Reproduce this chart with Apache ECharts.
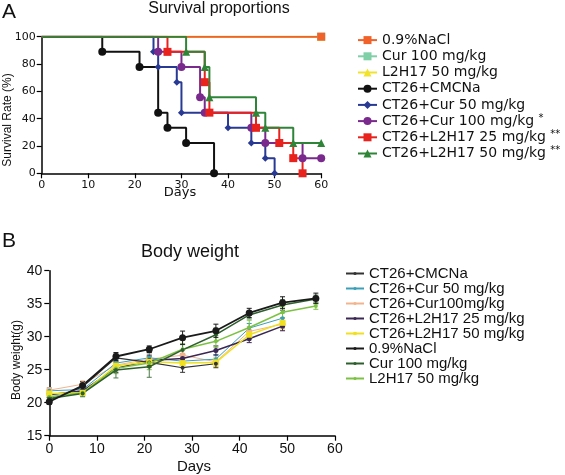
<!DOCTYPE html>
<html><head><meta charset="utf-8">
<script src="https://cdn.jsdelivr.net/npm/echarts@6/dist/echarts.min.js"></script>
<style>html,body{margin:0;padding:0;background:#fff}#c{width:565px;height:475px}</style>
</head><body><div id="c"></div>
<script>
// ---------- Panel A: survival (Kaplan-Meier steps: [day, % surviving]) ----------
const kmNames = ['0.9%NaCl','Cur 100 mg/kg','L2H17 50 mg/kg','CT26+CMCNa','CT26+Cur 50 mg/kg','CT26+Cur 100 mg/kg *','CT26+L2H17 25 mg/kg **','CT26+L2H17 50 mg/kg **'];
const kmNaCl    = [[0,100],[60,100]];
const kmCur100  = [[0,100],[60,100]];
const kmL2H50   = [[0,100],[60,100]];
const kmCMCNa   = [[0,100],[13,88.9],[21,77.8],[25,44.4],[27,33.3],[31,22.2],[37,0]];
const kmCTCur50 = [[0,100],[24,88.9],[25,77.8],[29,66.7],[30,44.4],[40,33.3],[45,22.2],[48,11.1],[50,0]];
const kmCTCur100= [[0,100],[25,88.9],[30,77.8],[34,55.6],[35,44.4],[45,33.3],[48,22.2],[56,11.1],[60,11.1]];
const kmCTL25   = [[0,100],[27,88.9],[35,66.7],[36,44.4],[46,33.3],[51,22.2],[54,11.1],[56,0]];
const kmCTL50   = [[0,100],[31,88.9],[35,77.8],[36,55.6],[46,44.4],[48,33.3],[54,22.2],[60,22.2]];
const kmXTicks = [0,10,20,30,40,50,60];

// ---------- Panel B: body weight (g) ----------
const bwNames = ['CT26+CMCNa','CT26+Cur 50 mg/kg','CT26+Cur100mg/kg','CT26+L2H17 25 mg/kg','CT26+L2H17 50 mg/kg','0.9%NaCl','Cur 100 mg/kg','L2H17 50 mg/kg'];
const bwDays      = [0,7,14,21,28,35,42,49,56];
const bwCMCNa     = [20.4,22.4,26.8,26.1,25.3,25.9];
const bwCTCur50   = [21.8,22.0,26.0,26.8,26.3,26.6,31.3,32.8];
const bwCTCur100  = [21.9,22.8,25.7,26.6,27.2,26.2,30.8,31.9];
const bwCTL25     = [21.2,21.8,25.2,26.4,26.7,27.9,29.7,31.6];
const bwCTL50     = [21.4,21.5,25.6,26.2,26.0,26.1,30.3,32.1];
const bwNaCl      = [20.15,22.6,27.0,28.1,29.85,30.9,33.6,35.15,35.8];
const bwCur100    = [20.65,21.4,24.95,25.45,28.0,30.3,33.3,34.8,35.7];
const bwL2H50     = [20.9,21.5,25.2,26.0,28.1,29.3,31.4,33.7,34.65];
// standard deviations (error bars)
const sdCMCNa     = [0.4,0.5,0.6,0.7,0.7,0.6];
const sdCTCur50   = [0.4,0.5,0.6,0.8,0.6,0.7,0.7,0.8];
const sdCTCur100  = [0.4,0.5,0.6,0.8,0.7,0.7,0.7,0.9];
const sdCTL25     = [0.4,0.5,0.6,0.8,0.7,0.7,0.6,0.7];
const sdCTL50     = [0.4,0.5,0.6,0.8,0.7,0.6,0.7,0.8];
const sdNaCl      = [0.4,0.6,0.6,0.5,1.0,1.0,0.7,0.9,0.8];
const sdCur100    = [0.7,0.5,1.2,1.6,0.8,1.0,0.6,0.8,0.6];
const sdL2H50     = [0.5,0.5,0.8,1.0,0.8,0.9,1.1,0.8,0.5];
const bwYTicks = [15,20,25,30,35,40];

const chart = echarts.init(document.getElementById('c'), null, {renderer:'canvas'});

function kmSeries(id, data, color, symbol, size, rot){
  return {
    type:'line', name:'A:'+id, xAxisIndex:0, yAxisIndex:0, step:'end',
    data: data.map((p,i)=> i===0 ? {value:p, symbol:'none'} : p),
    symbol: symbol, symbolSize: size, symbolRotate: rot || 0, showAllSymbol:true,
    lineStyle:{color:color, width:2}, itemStyle:{color:color},
    animation:false, z:3
  };
}
function bwSeries(id, vals, color, symbol, size, width){
  return {
    type:'line', name:'B:'+id, xAxisIndex:1, yAxisIndex:1,
    data: vals.map((v,i)=>[bwDays[i], v]),
    symbol: symbol, symbolSize: size, showAllSymbol:true,
    lineStyle:{color:color, width:width}, itemStyle:{color:color},
    animation:false, z:3
  };
}
function errSeries(vals, sds, color){
  return {
    type:'custom', name:'err', xAxisIndex:1, yAxisIndex:1, animation:false, z:2,
    data: vals.map((v,i)=>[bwDays[i], v, sds[i]]),
    renderItem: function(params, api){
      const x=api.value(0), m=api.value(1), s=api.value(2);
      const t=api.coord([x,m+s]), b=api.coord([x,m-s]);
      const w=2.5;
      const st={stroke:color, lineWidth:1};
      return {type:'group', children:[
        {type:'line', shape:{x1:t[0],y1:t[1],x2:b[0],y2:b[1]}, style:st},
        {type:'line', shape:{x1:t[0]-w,y1:t[1],x2:t[0]+w,y2:t[1]}, style:st},
        {type:'line', shape:{x1:b[0]-w,y1:b[1],x2:b[0]+w,y2:b[1]}, style:st}
      ]};
    }
  };
}

const cA = ['#f0622a','#7fd0a6','#f1e22c','#111111','#283a94','#7a2a8c','#e8231e','#2e8537'];
const seriesA = [
  kmSeries(kmNames[1], kmCur100, cA[1], 'rect', 8),
  kmSeries(kmNames[2], kmL2H50, cA[2], 'triangle', 8),
  kmSeries(kmNames[0], kmNaCl, cA[0], 'rect', 8),
  kmSeries(kmNames[3], kmCMCNa, cA[3], 'circle', 8),
  kmSeries(kmNames[4], kmCTCur50, cA[4], 'diamond', 7),
  kmSeries(kmNames[5], kmCTCur100, cA[5], 'circle', 8),
  kmSeries(kmNames[6], kmCTL25, cA[6], 'rect', 8),
  kmSeries(kmNames[7], kmCTL50, cA[7], 'triangle', 8)
];

const cB = ['#333333','#3aa0b8','#f2b48c','#3b2754','#f0e020','#1a1a1a','#2d5e2d','#7cc242'];
const seriesB = [
  errSeries(bwCTCur100, sdCTCur100, cB[2]),
  errSeries(bwCTCur50, sdCTCur50, cB[1]),
  errSeries(bwCTL25, sdCTL25, cB[3]),
  errSeries(bwCTL50, sdCTL50, cB[4]),
  errSeries(bwCMCNa, sdCMCNa, cB[0]),
  errSeries(bwL2H50, sdL2H50, cB[7]),
  errSeries(bwCur100, sdCur100, '#4d7a4d'),
  errSeries(bwNaCl, sdNaCl, cB[5]),
  bwSeries(bwNames[2], bwCTCur100, cB[2], 'circle', 6, 1),
  bwSeries(bwNames[1], bwCTCur50, cB[1], 'circle', 4, 1),
  bwSeries(bwNames[3], bwCTL25, cB[3], 'circle', 5, 1.5),
  bwSeries(bwNames[4], bwCTL50, cB[4], 'rect', 6, 1.5),
  bwSeries(bwNames[0], bwCMCNa, cB[0], 'circle', 4, 1.2),
  bwSeries(bwNames[7], bwL2H50, cB[7], 'circle', 4, 1.5),
  bwSeries(bwNames[6], bwCur100, cB[6], 'circle', 4, 1.5),
  bwSeries(bwNames[5], bwNaCl, cB[5], 'circle', 7, 1.8)
];

const axisCommon = {
  axisLine:{show:true, lineStyle:{color:'#000', width:1.5}},
  axisTick:{show:true, inside:false, length:5, lineStyle:{color:'#000', width:1.2}},
  splitLine:{show:false}
};

const option = {
  backgroundColor:'#fff',
  animation:false,
  grid:[
    {left:41.7, top:36.7, width:279.5, height:136.6},
    {left:49.3, top:270.7, width:285.6, height:165}
  ],
  xAxis:[
    Object.assign({type:'value', gridIndex:0, min:0, max:60, interval:10,
      axisLabel:{fontFamily:'DejaVu Sans', fontSize:11, color:'#111', margin:6}}, axisCommon),
    Object.assign({type:'value', gridIndex:1, min:0, max:60, interval:10,
      axisLabel:{fontFamily:'Liberation Sans', fontSize:14, color:'#111', margin:6}}, axisCommon)
  ],
  yAxis:[
    Object.assign({type:'value', gridIndex:0, min:0, max:100, interval:20,
      axisLabel:{fontFamily:'DejaVu Sans', fontSize:11, color:'#111', margin:6}}, axisCommon),
    Object.assign({type:'value', gridIndex:1, min:15, max:40, interval:5,
      axisLabel:{fontFamily:'Liberation Sans', fontSize:14, color:'#111', margin:7}}, axisCommon)
  ],
  legend:[
    {
      orient:'vertical', left:352, top:27, itemWidth:19, itemHeight:10, itemGap:0,
      data: [0,1,2,3,4,5,6,7].map(i=>'A:'+kmNames[i]),
      formatter: function(n){
        const t=n.slice(2); const k=t.indexOf(' *');
        return k<0 ? '{a|'+t+'}' : '{a|'+t.slice(0,k)+'} {s|'+t.slice(k+1)+'}';
      },
      textStyle:{fontFamily:'DejaVu Sans', fontSize:14, lineHeight:16.2, color:'#111',
        rich:{a:{fontFamily:'DejaVu Sans', fontSize:14, lineHeight:16.2, color:'#111'},
              s:{fontFamily:'DejaVu Sans', fontSize:10, lineHeight:16.2, verticalAlign:'top', color:'#111', padding:[0,0,6,0]}}},
      selectedMode:false
    },
    {
      orient:'vertical', left:340, top:261, itemWidth:18, itemHeight:4, itemGap:0,
      data: bwNames.map(n=>'B:'+n),
      formatter: function(n){ return n.slice(2); },
      textStyle:{fontFamily:'Liberation Sans', fontSize:15, lineHeight:14.1, color:'#111'},
      selectedMode:false
    }
  ],
  graphic:[
    {type:'text', x:2, y:12, style:{text:'A', fontFamily:'Liberation Sans', fontSize:21, fill:'#111', verticalAlign:'middle'}},
    {type:'text', x:219, y:9, style:{text:'Survival proportions', fontFamily:'Liberation Sans', fontSize:16, fill:'#111', align:'center', verticalAlign:'middle'}},
    {type:'text', x:180, y:193, style:{text:'Days', fontFamily:'DejaVu Sans', fontSize:13, fill:'#111', align:'center', verticalAlign:'middle'}},
    {type:'text', x:8, y:120, rotation:Math.PI/2, style:{text:'Survival Rate (%)', fontFamily:'Liberation Sans', fontSize:12, fill:'#111', align:'center', verticalAlign:'middle'}},
    {type:'text', x:2, y:241, style:{text:'B', fontFamily:'Liberation Sans', fontSize:21, fill:'#111', verticalAlign:'middle'}},
    {type:'text', x:190, y:252, style:{text:'Body weight', fontFamily:'Liberation Sans', fontSize:18, fill:'#111', align:'center', verticalAlign:'middle'}},
    {type:'text', x:194, y:467, style:{text:'Days', fontFamily:'Liberation Sans', fontSize:15, fill:'#111', align:'center', verticalAlign:'middle'}},
    {type:'text', x:17, y:360, rotation:Math.PI/2, style:{text:'Body weight(g)', fontFamily:'Liberation Sans', fontSize:12, fill:'#111', align:'center', verticalAlign:'middle'}}
  ],
  series: seriesA.concat(seriesB)
};
chart.setOption(option);
</script></body></html>
